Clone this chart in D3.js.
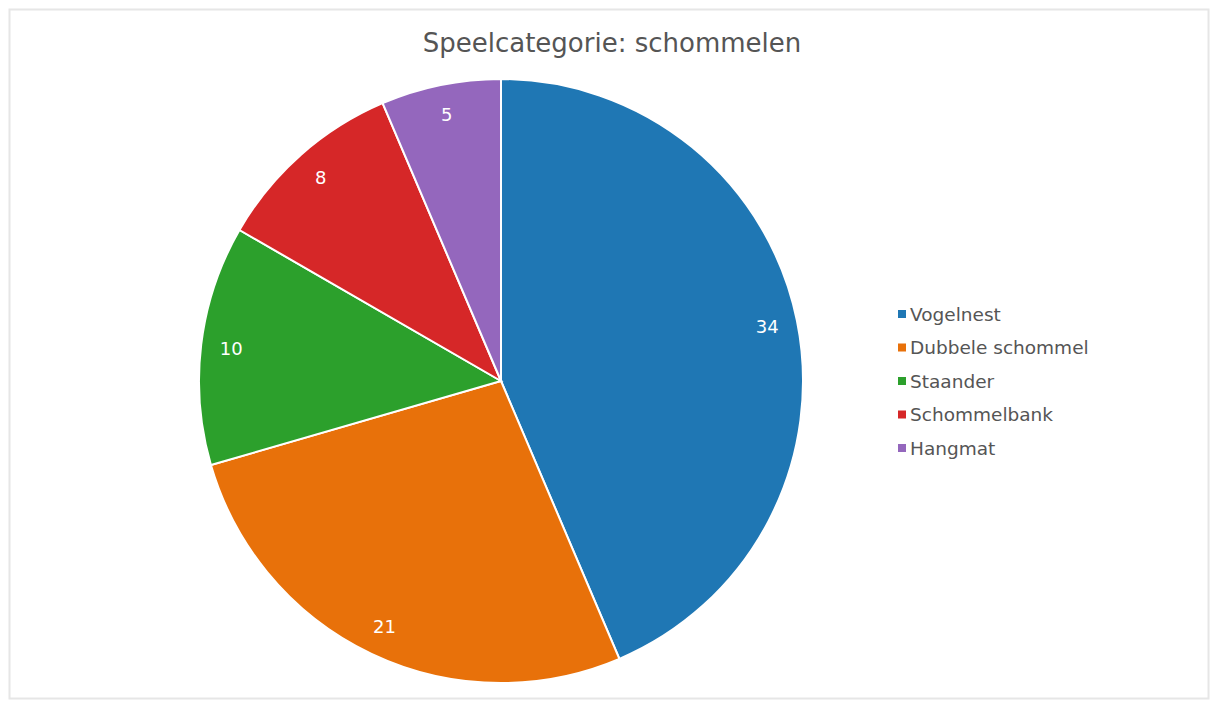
<!DOCTYPE html>
<html>
<head>
<meta charset="utf-8">
<script src="https://cdn.jsdelivr.net/npm/d3@7"></script>
<style>
  html, body { margin: 0; padding: 0; background: #fff; }
  svg { display: block; font-family: "DejaVu Sans", Verdana, sans-serif; }
</style>
</head>
<body>
<svg id="chart" width="1213" height="702"></svg>
<script>
// Swing types and their counts
const categories = ["Vogelnest", "Dubbele schommel", "Staander", "Schommelbank", "Hangmat"];
const values = [34, 21, 10, 8, 5];
const colors = ["#1f77b4", "#e8710a", "#2ca02c", "#d62728", "#9467bd"];
const title = "Speelcategorie: schommelen";

const width = 1213, height = 702;
const svg = d3.select("#chart");

// Light frame around the chart area
svg.append("rect")
  .attr("x", 9.5).attr("y", 9.5)
  .attr("width", 1199).attr("height", 689)
  .attr("fill", "#fff")
  .attr("stroke", "#e6e6e6")
  .attr("stroke-width", 2);

svg.append("text")
  .attr("x", 612).attr("y", 52)
  .attr("text-anchor", "middle")
  .attr("font-size", 26)
  .attr("fill", "#555")
  .text(title);

const cx = 501, cy = 381, radius = 302;
const color = d3.scaleOrdinal().domain(categories).range(colors);

const pie = d3.pie().sort(null).value(d => d.value);
const data = categories.map((c, i) => ({ name: c, value: values[i] }));
const arcs = pie(data);

const arc = d3.arc().innerRadius(0).outerRadius(radius);
const labelArc = d3.arc().innerRadius(radius * 0.9).outerRadius(radius * 0.9);

const g = svg.append("g").attr("transform", `translate(${cx},${cy})`);

g.selectAll("path.slice")
  .data(arcs)
  .join("path")
  .attr("class", "slice")
  .attr("d", arc)
  .attr("fill", d => color(d.data.name))
  .attr("stroke", "#fff")
  .attr("stroke-width", 2);

g.selectAll("text.val")
  .data(arcs)
  .join("text")
  .attr("class", "val")
  .attr("transform", d => `translate(${labelArc.centroid(d)})`)
  .attr("text-anchor", "middle")
  .attr("dominant-baseline", "central")
  .attr("font-size", 18)
  .attr("fill", "#fff")
  .text(d => d.data.value);

// Legend
const legend = svg.append("g").attr("transform", "translate(898,314)");
const row = legend.selectAll("g")
  .data(categories)
  .join("g")
  .attr("transform", (d, i) => `translate(0,${i * 33.5})`);

row.append("rect")
  .attr("x", 0).attr("y", -4)
  .attr("width", 8).attr("height", 8)
  .attr("fill", d => color(d));

row.append("text")
  .attr("x", 12).attr("y", 0)
  .attr("dominant-baseline", "central")
  .attr("font-size", 18.5)
  .attr("fill", "#555")
  .text(d => d);
</script>
</body>
</html>
